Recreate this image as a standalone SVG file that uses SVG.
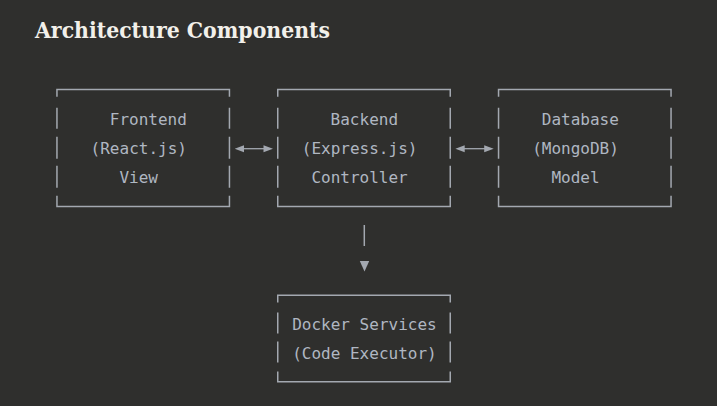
<svg xmlns="http://www.w3.org/2000/svg" width="717" height="406" viewBox="0 0 717 406">
<style>
.t{font-family:"DejaVu Sans Mono","Liberation Mono",monospace;font-size:16px;fill:#b0b7c2}
.b{fill:none;stroke:#a3a8b0;stroke-width:1.5}
.c{fill:none;stroke:#a3a8b0;stroke-width:1.3}
.h{fill:#a3a8b0}
</style>
<defs>
<path id="box3" class="b" d="M0.75,0 V8 M0,0.75 H174 M173.25,0 V8 M0.75,19 V40 M173.25,19 V40 M0.75,48 V70 M173.25,48 V70 M0.75,77 V99 M173.25,77 V99 M0.75,107 V118.5 M0,117.75 H174 M173.25,107 V118.5"/>
<path id="box2" class="b" d="M0.75,0 V8 M0,0.75 H174 M173.25,0 V8 M0.75,18 V39 M173.25,18 V39 M0.75,47 V68 M173.25,47 V68 M0.75,77 V88 M0,87.25 H174 M173.25,77 V88"/>
</defs>
<rect width="717" height="406" fill="#2f2f2d"/>
<text x="35" y="37.5" font-family="'DejaVu Serif','Liberation Serif',serif" font-weight="bold" font-size="21.5" fill="#f2f0ea" textLength="295" lengthAdjust="spacingAndGlyphs">Architecture Components</text>
<g id="frontend">
<use href="#box3" x="56.2" y="88.7"/>
<text class="t" x="109.8" y="125">Frontend</text>
<text class="t" x="90.6" y="154">(React.js)</text>
<text class="t" x="119.4" y="183">View</text>
</g>
<g id="backend">
<use href="#box3" x="277" y="88.7"/>
<text class="t" x="330.6" y="125">Backend</text>
<text class="t" x="301.8" y="154">(Express.js)</text>
<text class="t" x="311.4" y="183">Controller</text>
</g>
<g id="database">
<use href="#box3" x="497.8" y="88.7"/>
<text class="t" x="541.8" y="125">Database</text>
<text class="t" x="532.2" y="154">(MongoDB)</text>
<text class="t" x="551.4" y="183">Model</text>
</g>
<g id="docker">
<use href="#box2" x="277" y="294.5"/>
<text class="t" x="292.2" y="330">Docker Services</text>
<text class="t" x="292.2" y="359">(Code Executor)</text>
</g>
<g id="connectors">
<line class="c" x1="242" y1="148.7" x2="265" y2="148.7"/>
<path class="h" d="M234.7,148.7 L244,145.3 L244,152.2 Z M273,148.7 L263.5,145.3 L263.5,152.2 Z"/>
<line class="c" x1="463" y1="148.7" x2="486" y2="148.7"/>
<path class="h" d="M455.4,148.7 L464.7,145.3 L464.7,152.2 Z M493.7,148.7 L484.2,145.3 L484.2,152.2 Z"/>
<line class="b" x1="364.3" y1="225" x2="364.3" y2="246"/>
<path class="h" d="M359.8,261 L369.2,261 L364.5,271.5 Z"/>
</g>
</svg>
